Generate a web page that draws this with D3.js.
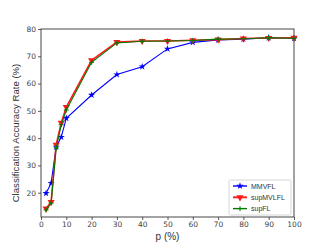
<!DOCTYPE html>
<html>
<head>
<meta charset="utf-8">
<script src="https://cdn.jsdelivr.net/npm/d3@7"></script>
<style>
  body { margin: 0; background: #fff; }
  text { font-family: "Liberation Sans", Arial, sans-serif; }
</style>
</head>
<body>
<div id="chart"></div>
<script>
const pValues = [2, 4, 6, 8, 10, 20, 30, 40, 50, 60, 70, 80, 90, 100];
const mmvfl = [19.8, 23.5, 36.8, 40.4, 47.3, 55.8, 63.3, 66.2, 72.7, 75.1, 76.0, 76.3, 76.8, 76.6];
const supMVLFL = [14.2, 16.6, 37.6, 45.6, 51.4, 68.5, 75.2, 75.6, 75.6, 75.9, 76.1, 76.5, 76.7, 76.8];
const supFL = [13.7, 16.2, 36.4, 44.9, 50.3, 67.8, 74.9, 75.5, 75.6, 75.8, 76.3, 76.4, 76.8, 76.6];
const xTicks = [0, 10, 20, 30, 40, 50, 60, 70, 80, 90, 100];
const yTicks = [20, 30, 40, 50, 60, 70, 80];
const seriesNames = ["MMVFL", "supMVLFL", "supFL"];

const W = 327, H = 245;
const margin = {top: 29, right: 33, bottom: 28, left: 41};
const width = W - margin.left - margin.right,
    height = H - margin.top - margin.bottom;

const svg = d3.select("#chart").append("svg")
    .attr("width", W)
    .attr("height", H);

const g = svg.append("g")
    .attr("transform", `translate(${margin.left},${margin.top})`);

const x = d3.scaleLinear().domain([0, 100]).range([0, width]);
const y = d3.scaleLinear().domain([11.1, 80]).range([height, 0]);

// axes
const xAxis = g.append("g")
    .attr("transform", `translate(0,${height})`)
    .call(d3.axisBottom(x).tickValues(xTicks).tickSize(3).tickPadding(2));
const yAxis = g.append("g")
    .call(d3.axisLeft(y).tickValues(yTicks).tickSize(3).tickPadding(2));

[xAxis, yAxis].forEach(a => {
    a.select(".domain").remove();
    a.selectAll("line").attr("stroke", "#333").attr("stroke-width", 0.8);
    a.selectAll("text").attr("fill", "#444").style("font-size", "7.5px")
        .style("font-family", "'DejaVu Sans', sans-serif");
});

g.append("rect")
    .attr("width", width)
    .attr("height", height)
    .attr("fill", "none")
    .attr("stroke", "#333")
    .attr("stroke-width", 0.9);

// lines
const series = [
    {name: seriesNames[0], values: mmvfl, color: "#0000ff", marker: "star", lw: 1.1},
    {name: seriesNames[1], values: supMVLFL, color: "#ff1a1a", marker: "tri", lw: 1.6},
    {name: seriesNames[2], values: supFL, color: "#007a00", marker: "plus", lw: 1.1}
];

const line = d3.line()
    .x(d => x(d[0]))
    .y(d => y(d[1]));

function drawMarker(sel, type, color, cx, cy) {
    if (type === "star") {
        sel.append("path")
            .attr("d", d3.symbol(d3.symbolStar, 16)())
            .attr("transform", `translate(${cx},${cy})`)
            .attr("fill", color);
    } else if (type === "tri") {
        sel.append("path")
            .attr("d", d3.symbol(d3.symbolTriangle, 22)())
            .attr("transform", `translate(${cx},${cy}) rotate(180)`)
            .attr("fill", color);
    } else {
        sel.append("path")
            .attr("d", `M${cx - 2.5},${cy}H${cx + 2.5}M${cx},${cy - 2.5}V${cy + 2.5}`)
            .attr("stroke", color)
            .attr("stroke-width", 1);
    }
}

series.forEach(s => {
    const pts = pValues.map((p, i) => [p, s.values[i]]);
    g.append("path")
        .datum(pts)
        .attr("fill", "none")
        .attr("stroke", s.color)
        .attr("stroke-width", s.lw)
        .attr("d", line);
    const mg = g.append("g");
    pts.forEach(d => drawMarker(mg, s.marker, s.color, x(d[0]), y(d[1])));
});

// labels
svg.append("text")
    .attr("x", margin.left + width / 2)
    .attr("y", 240)
    .attr("text-anchor", "middle")
    .style("font-size", "10px")
    .attr("fill", "#333")
    .text("p (%)");

svg.append("text")
    .attr("transform", `translate(19,${margin.top + height / 2 + 10}) rotate(-90)`)
    .attr("text-anchor", "middle")
    .style("font-size", "9.6px")
    .attr("fill", "#333")
    .text("Classification Accuracy Rate (%)");

// legend
const lg = svg.append("g").attr("transform", "translate(229,180)");
lg.append("rect")
    .attr("width", 62)
    .attr("height", 35)
    .attr("rx", 1.5)
    .attr("fill", "#fff")
    .attr("stroke", "#ccc")
    .attr("stroke-width", 0.8);
series.forEach((s, i) => {
    const yy = 6 + i * 11.3;
    lg.append("line")
        .attr("x1", 4).attr("x2", 18)
        .attr("y1", yy).attr("y2", yy)
        .attr("stroke", s.color)
        .attr("stroke-width", s.lw + 0.3);
    drawMarker(lg, s.marker, s.color, 11, yy);
    lg.append("text")
        .attr("x", 22)
        .attr("y", yy + 2.5)
        .style("font-size", "7px")
        .attr("fill", "#333")
        .text(s.name);
});
</script>
</body>
</html>
